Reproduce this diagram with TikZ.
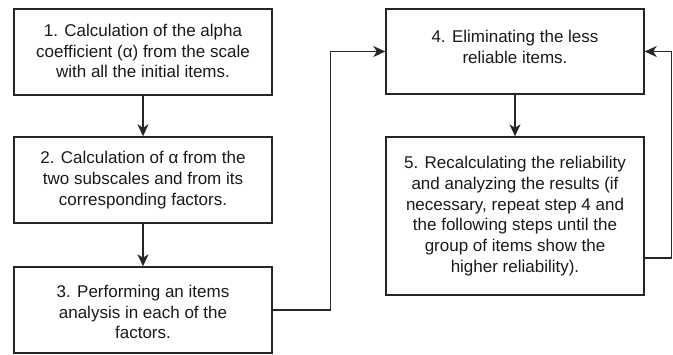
\documentclass[tikz,border=0pt]{standalone}
\usepackage{fontspec}
\setmainfont{Liberation Sans}
\usetikzlibrary{arrows.meta}
\begin{document}
\begin{tikzpicture}[x=1pt,y=-1pt,
  box/.style={draw=black!85, line width=1.4pt, minimum width=258pt, inner sep=0pt},
  txt/.style={align=center, font=\fontsize{17}{20.7}\selectfont, text=black!90, inner sep=0pt},
  conn/.style={draw=black!85, line width=1.4pt, -{Stealth[length=12pt,width=11pt,inset=3.5pt]}}]
\useasboundingbox (0,0) rectangle (673,354);
\node[box, minimum height=86pt] (b1) at (143,52) {};
\node[box, minimum height=86pt] (b2) at (143,180) {};
\node[box, minimum height=86pt] (b3) at (143,310) {};
\node[box, minimum height=85pt] (b4) at (515,51.5) {};
\node[box, minimum height=158pt] (b5) at (515,216) {};
\node[txt] (t1) at (143,51) {1. Calculation of the alpha\\coefficient (α) from the scale\\with all the initial items.};
\node[txt] (t2) at (143,180) {2. Calculation of α from the\\two subscales and from its\\corresponding factors.};
\node[txt] (t3) at (143,312) {3. Performing an items\\analysis in each of the\\factors.};
\node[txt] (t4) at (515,47) {4. Eliminating the less\\reliable items.};
\node[txt] (t5) at (515,216) {5. Recalculating the reliability\\and analyzing the results (if\\necessary, repeat step 4 and\\the following steps until the\\group of items show the\\higher reliability).};
\coordinate (l5) at ([yshift=-42pt]b5.east);
\coordinate (rx) at (671.5,258);
\draw[conn] (b1) -- (b2);
\draw[conn] (b2) -- (b3);
\draw[conn] (b4) -- (b5);
\draw[conn] (b3.east) -- ++(58,0) |- (b4.west);
\draw[conn] (l5) -- (rx) |- (b4.east);
\end{tikzpicture}
\end{document}
